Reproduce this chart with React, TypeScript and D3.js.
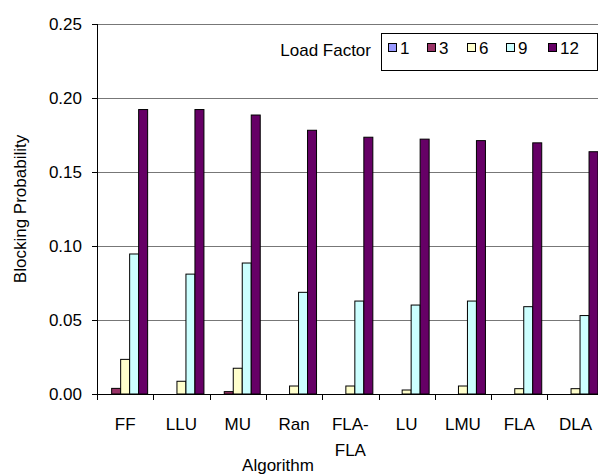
import React from "react";
import * as d3 from "d3";

const categories = ["FF", "LLU", "MU", "Ran", "FLA-FLA", "LU", "LMU", "FLA", "DLA"];
const seriesNames = ["1", "3", "6", "9", "12"];
const load1 = [0, 0, 0, 0, 0, 0, 0, 0, 0];
const load3 = [0.0038, 0, 0.0016, 0, 0, 0, 0, 0, 0];
const load6 = [0.0234, 0.0086, 0.0174, 0.0054, 0.0054, 0.0027, 0.0054, 0.0036, 0.0036];
const load9 = [0.0946, 0.081, 0.0885, 0.0687, 0.0628, 0.0601, 0.0628, 0.059, 0.053];
const load12 = [0.1922, 0.1922, 0.1885, 0.1782, 0.1735, 0.1722, 0.1712, 0.1697, 0.1637];
const yTicks = [0, 0.05, 0.1, 0.15, 0.2, 0.25];
const colors = ["#9999FF", "#993366", "#FFFFCC", "#CCFFFF", "#660066"];

const seriesValues = [load1, load3, load6, load9, load12];

export default function App() {
  const W = 598, H = 476;
  const left = 97, bottom = 394, top = 24;
  const step = 56.3;
  const right = left + step * categories.length;
  const x = d3.scaleBand<string>().domain(categories).range([left, right]).paddingInner(0).paddingOuter(0);
  const inner = d3.scaleBand<string>().domain(seriesNames).range([0, step]).paddingInner(0).paddingOuter(0.63);
  const y = d3.scaleLinear().domain([0, 0.25]).range([bottom, top]);
  const font = "'Liberation Sans', Arial, sans-serif";
  const fmt = d3.format(".2f");
  const fs = 17;

  const legendX = 381, legendY = 33, legendW = 217, legendH = 37;
  const legendItemX = [388, 427, 467, 506, 548];

  return (
    <svg width={W} height={H} style={{ position: "absolute", left: 0, top: 0, background: "#fff" }} fontFamily={font}>
      <rect x={0} y={0} width={W} height={H} fill="#fff" />
      {yTicks.filter(t => t > 0).map(t => (
        <line key={t} x1={left} x2={right} y1={Math.round(y(t)) + 0.5} y2={Math.round(y(t)) + 0.5} stroke="#777" strokeWidth={1} />
      ))}
      {categories.map((c, i) =>
        seriesValues.map((vals, s) => {
          const v = vals[i];
          const bx = (x(c) as number) + (inner(seriesNames[s]) as number);
          const bw = inner.bandwidth();
          const yt = y(v);
          return (
            <rect key={c + s} x={bx} y={yt} width={bw} height={Math.max(0, bottom - yt)} fill={colors[s]} stroke="#000" strokeWidth={1} />
          );
        })
      )}
      {/* y axis */}
      <line x1={left + 0.5} x2={left + 0.5} y1={top} y2={bottom} stroke="#000" />
      {yTicks.map(t => (
        <g key={"yt" + t}>
          <line x1={left - 5} x2={left} y1={Math.round(y(t)) + 0.5} y2={Math.round(y(t)) + 0.5} stroke="#000" />
          <text x={82} y={y(t)} dy="0.36em" textAnchor="end" fontSize={fs} fill="#000">{fmt(t)}</text>
        </g>
      ))}
      {/* x axis */}
      <line x1={left} x2={right} y1={bottom + 0.5} y2={bottom + 0.5} stroke="#000" />
      {d3.range(categories.length + 1).map(i => (
        <line key={"xt" + i} x1={Math.round(left + i * step) + 0.5} x2={Math.round(left + i * step) + 0.5} y1={bottom} y2={bottom + 6} stroke="#000" />
      ))}
      {categories.map(c => {
        const cx = (x(c) as number) + step / 2;
        if (c === "FLA-FLA") {
          return (
            <text key={c} x={cx} y={430} textAnchor="middle" fontSize={fs} fill="#000">
              <tspan x={cx}>FLA-</tspan>
              <tspan x={cx} dy={26}>FLA</tspan>
            </text>
          );
        }
        return <text key={c} x={cx} y={430} textAnchor="middle" fontSize={fs} fill="#000">{c}</text>;
      })}
      <text x={278} y={471} textAnchor="middle" fontSize={fs} fill="#000">Algorithm</text>
      <text transform={`translate(26,${(top + bottom) / 2}) rotate(-90)`} textAnchor="middle" fontSize={fs} fill="#000">Blocking Probability</text>
      {/* legend */}
      <text x={371} y={56} textAnchor="end" fontSize={fs} fill="#000">Load Factor</text>
      <rect x={legendX + 0.5} y={legendY + 0.5} width={legendW - 1} height={legendH} fill="#fff" stroke="#000" />
      {seriesNames.map((s, i) => (
        <g key={"lg" + s}>
          <rect x={legendItemX[i] + 0.5} y={43.5} width={8} height={8} fill={colors[i]} stroke="#000" />
          <text x={legendItemX[i] + 12} y={54} fontSize={fs} fill="#000">{s}</text>
        </g>
      ))}
    </svg>
  );
}
